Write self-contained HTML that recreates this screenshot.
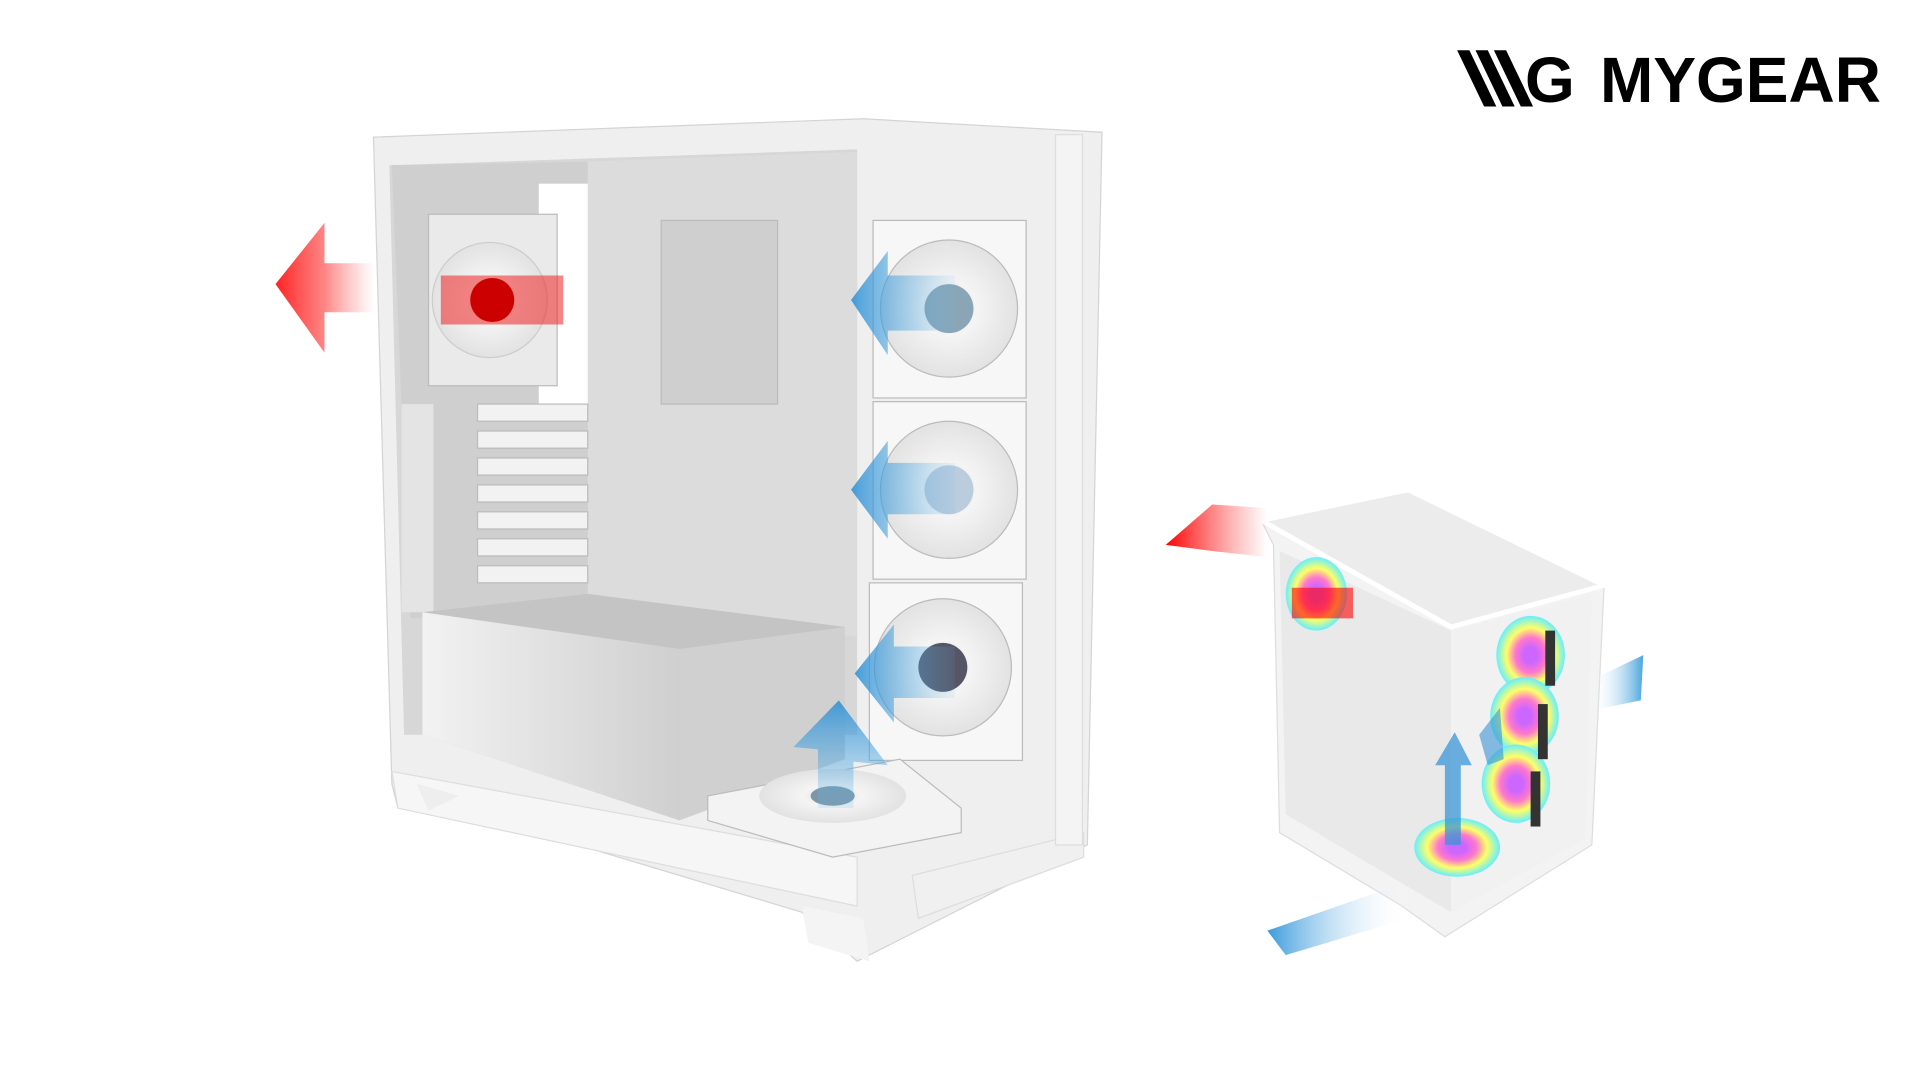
<!DOCTYPE html>
<html><head><meta charset="utf-8"><style>
html,body{margin:0;padding:0;background:#fff;width:1920px;height:1080px;overflow:hidden}
svg{position:absolute;left:0;top:0}
.logo{position:absolute;top:48px;font-family:"Liberation Sans",sans-serif;font-weight:bold;font-size:64px;color:#000;line-height:1;white-space:nowrap}
</style></head><body>
<svg width="1920" height="1080" viewBox="0 0 1568 882" preserveAspectRatio="none">
<defs>
<linearGradient id="red" x1="0" x2="1"><stop offset="0" stop-color="#f22"/><stop offset="0.5" stop-color="#f66" stop-opacity=".8"/><stop offset="1" stop-color="#f88" stop-opacity="0"/></linearGradient>
<linearGradient id="red2" x1="0" x2="1"><stop offset="0" stop-color="#f00"/><stop offset="1" stop-color="#f44" stop-opacity="0"/></linearGradient>
<linearGradient id="blue" x1="0" x2="1"><stop offset="0" stop-color="#2a8fd6"/><stop offset="1" stop-color="#6bb8e8" stop-opacity=".1"/></linearGradient>
<linearGradient id="blueu" x1="0" y1="0" x2="0" y2="1"><stop offset="0" stop-color="#2a8fd6"/><stop offset="1" stop-color="#6bb8e8" stop-opacity=".2"/></linearGradient>
<linearGradient id="bs1" x1="0" x2="1"><stop offset="0" stop-color="#fff" stop-opacity="0"/><stop offset="1" stop-color="#4aa5de"/></linearGradient>
<linearGradient id="bs2" x1="0" x2="1"><stop offset="0" stop-color="#3a9bdc"/><stop offset="1" stop-color="#fff" stop-opacity="0"/></linearGradient>
<linearGradient id="psu" x1="0" x2="1"><stop offset="0" stop-color="#f2f2f2"/><stop offset="1" stop-color="#cfcfcf"/></linearGradient>
<radialGradient id="fan"><stop offset="0" stop-color="#ddd"/><stop offset=".4" stop-color="#f4f4f4"/><stop offset="1" stop-color="#e2e2e2"/></radialGradient>
<radialGradient id="rgb"><stop offset=".2" stop-color="#c6f"/><stop offset=".45" stop-color="#f7c"/><stop offset=".7" stop-color="#ff6"/><stop offset="1" stop-color="#6ef"/></radialGradient>
</defs>
<polygon points="305,112 705,97 900,108 888,690 700,785 655,745 372,660 325,660 320,640" fill="#efefef" stroke="#d4d4d4"/>
<polygon points="318,135 700,122 700,600 330,600" fill="#d7d7d7"/>
<polygon points="480,132 700,124 700,520 480,490" fill="#dcdcdc"/>
<polygon points="320,135 480,132 480,500 335,505" fill="#cfcfcf"/>
<rect x="440" y="150" width="40" height="180" fill="#fff"/>
<rect x="540" y="180" width="95" height="150" fill="#cfcfcf" stroke="#bbb"/>
<rect x="328" y="330" width="26" height="170" fill="#e4e4e4"/>
<g fill="#f2f2f2" stroke="#bbb"><rect x="390" y="330" width="90" height="14"/><rect x="390" y="352" width="90" height="14"/><rect x="390" y="374" width="90" height="14"/><rect x="390" y="396" width="90" height="14"/><rect x="390" y="418" width="90" height="14"/><rect x="390" y="440" width="90" height="14"/><rect x="390" y="462" width="90" height="14"/></g>
<polygon points="345,500 480,485 690,512 690,620 555,670 345,600" fill="#d0d0d0"/>
<polygon points="345,500 480,485 690,512 555,530" fill="#c4c4c4"/>
<polygon points="345,500 555,530 555,670 345,600" fill="url(#psu)"/>
<polygon points="320,630 700,700 700,740 325,660" fill="#f6f6f6" stroke="#ddd"/>
<polygon points="340,640 375,650 350,662" fill="#eee"/>
<polygon points="655,740 705,750 710,785 660,770" fill="#f4f4f4"/>
<polygon points="745,715 885,680 885,700 750,750" fill="#f0f0f0" stroke="#ddd"/>
<rect x="862" y="110" width="22" height="580" fill="#f4f4f4" stroke="#ddd"/>
<rect x="350" y="175" width="105" height="140" fill="#eaeaea" stroke="#bbb"/>
<circle cx="400" cy="245" r="47" fill="url(#fan)" stroke="#ccc"/>
<g stroke="#bbb">
<rect x="713" y="180" width="125" height="145" fill="#f7f7f7"/>
<rect x="713" y="328" width="125" height="145" fill="#f7f7f7"/>
<rect x="710" y="476" width="125" height="145" fill="#f7f7f7"/>
<circle cx="775" cy="252" r="56" fill="url(#fan)"/>
<circle cx="775" cy="400" r="56" fill="url(#fan)"/>
<circle cx="770" cy="545" r="56" fill="url(#fan)"/>
</g>
<circle cx="775" cy="252" r="20" fill="#8aa5b5"/>
<circle cx="775" cy="400" r="20" fill="#bcd"/>
<circle cx="770" cy="545" r="20" fill="#556"/>
<polygon points="578,650 735,620 785,660 785,680 680,700 578,670" fill="#f3f3f3" stroke="#bbb"/>
<ellipse cx="680" cy="650" rx="60" ry="22" fill="url(#fan)"/>
<ellipse cx="680" cy="650" rx="18" ry="8" fill="#7c98a8"/>
<polygon points="225,232 265,182 265,215 305,215 305,255 265,255 265,288" fill="url(#red)"/>
<rect x="360" y="225" width="100" height="40" fill="#e22" opacity=".55"/>
<circle cx="402" cy="245" r="18" fill="#c00"/>
<g opacity=".85">
<polygon points="695,245 725,205 725,225 780,225 780,270 725,270 725,290" fill="url(#blue)"/>
<polygon points="695,400 725,360 725,378 780,378 780,420 725,420 725,440" fill="url(#blue)"/>
<polygon points="698,550 730,510 730,528 780,528 780,570 730,570 730,590" fill="url(#blue)"/>
<polygon points="648,610 685,572 725,625 697,622 697,660 668,660 668,612" fill="url(#blueu)"/>
</g>
<polygon points="1030,425 1150,400 1310,478 1300,690 1180,765 1145,740 1045,680 1040,445" fill="#f3f3f3" stroke="#ddd"/>
<polygon points="1030,425 1150,400 1310,478 1185,512" fill="#ececec" stroke="#fff" stroke-width="4"/>
<polygon points="1045,450 1185,515 1185,745 1050,665" fill="#e9e9e9"/>
<polygon points="1185,515 1300,485 1295,685 1185,745" fill="#f1f1f1"/>
<ellipse cx="1250" cy="535" rx="28" ry="32" fill="url(#rgb)"/>
<ellipse cx="1245" cy="585" rx="28" ry="32" fill="url(#rgb)"/>
<ellipse cx="1238" cy="640" rx="28" ry="32" fill="url(#rgb)"/>
<ellipse cx="1190" cy="692" rx="35" ry="24" fill="url(#rgb)"/>
<ellipse cx="1075" cy="485" rx="25" ry="30" fill="url(#rgb)"/>
<rect x="1055" y="480" width="50" height="25" fill="#f00" opacity=".6"/>
<g fill="#333"><rect x="1262" y="515" width="8" height="45"/><rect x="1256" y="575" width="8" height="45"/><rect x="1250" y="630" width="8" height="45"/></g>
<polygon points="952,445 990,412 1035,415 1035,455 990,450" fill="url(#red2)"/>
<polygon points="1300,555 1342,535 1340,572 1300,580" fill="url(#bs1)"/>
<polygon points="1035,760 1150,720 1150,750 1050,780" fill="url(#bs2)"/>
<polygon points="1172,625 1188,598 1202,625 1193,625 1193,690 1180,690 1180,625" fill="#3a95d6" opacity=".75"/>
<polygon points="1208,600 1225,578 1228,620 1215,625" fill="#3a95d6" opacity=".6"/>
<g fill="#000">
<polygon points="1190,41 1200,41 1222,87 1212,87"/>
<polygon points="1205,41 1215,41 1237,87 1227,87"/>
<polygon points="1220,41 1230,41 1252,87 1242,87"/>
</g>
</svg>
<div class="logo" style="left:1525px;">G</div>
<div class="logo" style="left:1600px;">MYGEAR</div>
</body></html>
